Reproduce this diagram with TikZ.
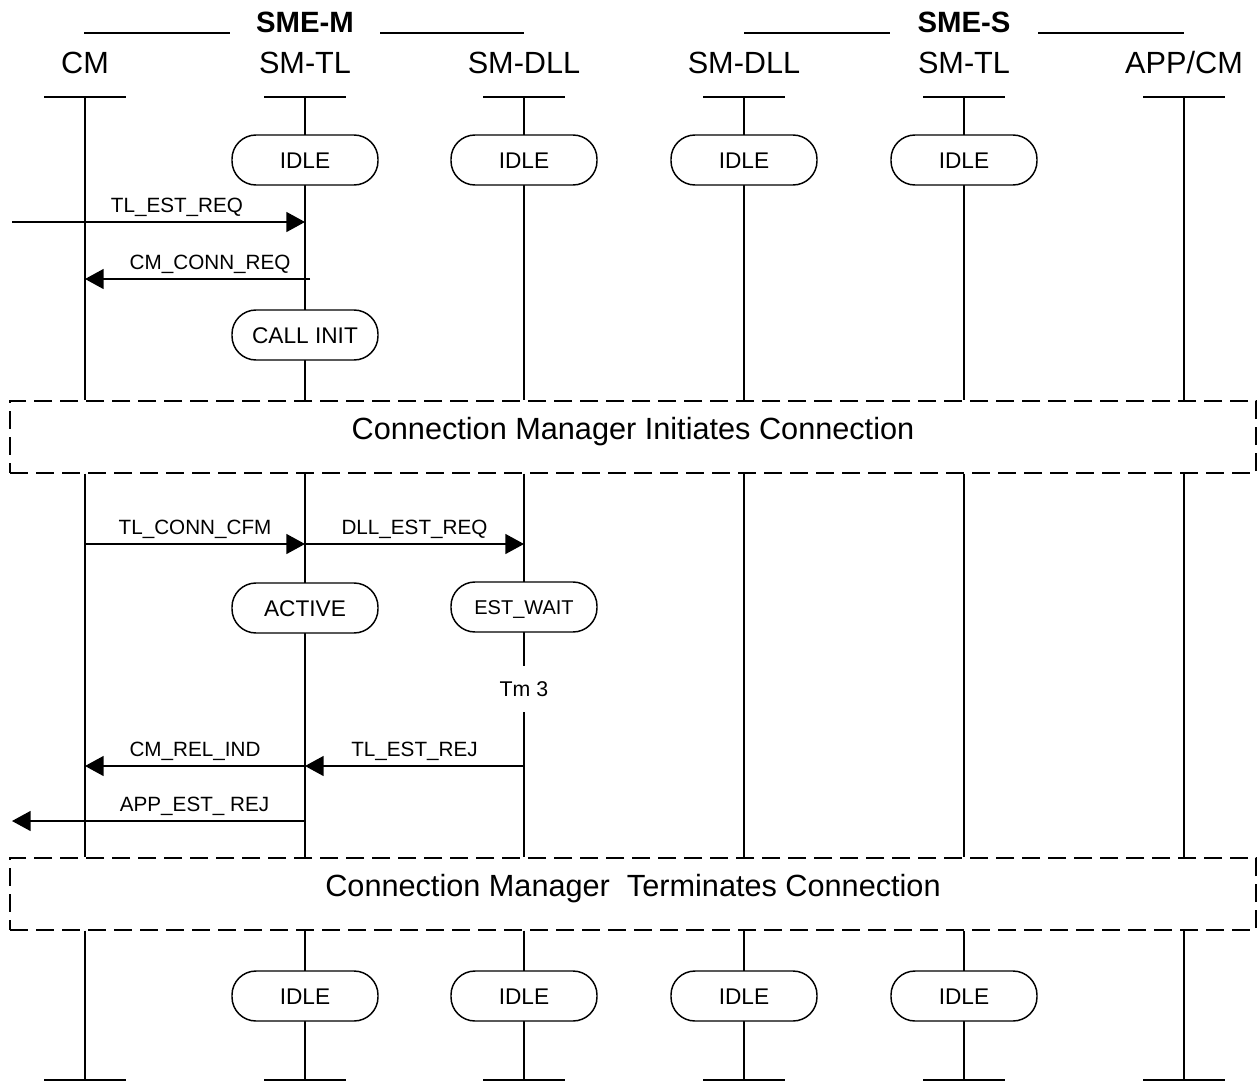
\documentclass[tikz,border=0pt]{standalone}
\usepackage{fontspec}
\setmainfont{Liberation Sans}
\usetikzlibrary{arrows.meta}
\tikzset{
  lifehead/.style={anchor=base,font=\fontsize{23}{27}\selectfont},
  entity/.style={anchor=base,font=\bfseries\fontsize{22}{26}\selectfont},
  state/.style={draw,fill=white,rounded corners=18pt,minimum width=109.5pt,
    minimum height=37.5pt,inner sep=0pt,text height=12pt,text depth=0pt,
    font=\fontsize{17}{20}\selectfont},
  msg/.style={-{Triangle[length=14pt,width=15pt]}},
  msglabel/.style={anchor=base,yshift=7pt,font=\fontsize{15.5}{18}\selectfont},
  timer/.style={fill=white,minimum height=35pt,inner sep=1pt,text height=11.5pt,
    text depth=0pt,font=\fontsize{16}{19}\selectfont},
  phase/.style={draw,dash pattern=on 13.5pt off 6pt,minimum width=934.5pt,
    minimum height=54pt,inner sep=0pt},
  phasetext/.style={text height=16.5pt,text depth=0pt,font=\fontsize{23}{27}\selectfont},
}
\begin{document}
\begin{tikzpicture}[x=0.75pt,y=-0.75pt,line width=1.1pt]
  \useasboundingbox (0,0) rectangle (1257,1082);
  \node[entity] (smem) at (305,32.5) {SME-M};
  \node[entity] (smes) at (964,32.5) {SME-S};
  \draw (84,33) -- (230,33);
  \draw (380,33) -- (524,33);
  \draw (744,33) -- (890,33);
  \draw (1038,33) -- (1184,33);
  \foreach \n/\x/\lbl in {cm/85/CM,tlm/305/SM-TL,dllm/524/SM-DLL,
                          dlls/744/SM-DLL,tls/964/SM-TL,app/1184/{APP/CM}} {
    \node[lifehead] (\n) at (\x,73) {\lbl};
    \coordinate (top\n) at (\x,97);
    \coordinate (bot\n) at (\x,1080);
  }
  \node[phase] (ini) at (633,437) {};
  \node[phasetext] (initxt) at ([yshift=6.75pt]ini.center)
    {Connection Manager Initiates Connection};
  \node[phase] (term) at (633,894) {};
  \node[phasetext] (termtxt) at ([yshift=6.75pt]term.center)
    {Connection Manager\ \ Terminates Connection};
  \foreach \n in {cm,tlm,dllm,dlls,tls,app} {
    \draw (top\n) -- (top\n |- ini.north);
    \draw (top\n |- ini.south) -- (top\n |- term.north);
    \draw (top\n |- term.south) -- (bot\n);
    \draw (top\n) ++(-41,0) -- ++(82,0);
    \draw (bot\n) ++(-41,0) -- ++(82,0);
  }
  \foreach \n in {tlm,dllm,dlls,tls} {
    \node[state] (idle\n) at (top\n |- 0,160) {IDLE};
    \node[state] (end\n) at (top\n |- 0,996) {IDLE};
  }
  \coordinate (envin) at (12,222);
  \draw[msg] (envin) -- (envin -| toptlm)
    node[msglabel,pos=0.563] {TL\_EST\_REQ};
  \coordinate (connreq) at (310,279);
  \draw[msg] (connreq) -- (connreq -| topcm)
    node[msglabel,pos=0.444] {CM\_CONN\_REQ};
  \node[state] (callinit) at (toptlm |- 0,335) {CALL INIT};
  \coordinate (cfm) at (topcm |- 0,544);
  \draw[msg] (cfm) -- (cfm -| toptlm) node[msglabel,midway] {TL\_CONN\_CFM};
  \draw[msg] (cfm -| toptlm) -- (cfm -| topdllm)
    node[msglabel,midway] {DLL\_EST\_REQ};
  \node[state] (active) at (toptlm |- 0,608) {ACTIVE};
  \node[state,text height=11pt,font=\fontsize{15}{18}\selectfont] (estwait)
    at (topdllm |- 0,607) {EST\_WAIT};
  \node[timer] (tm) at (topdllm |- 0,689) {Tm 3};
  \coordinate (rej) at (topdllm |- 0,766);
  \draw[msg] (rej) -- (rej -| toptlm) node[msglabel,midway] {TL\_EST\_REJ};
  \draw[msg] (rej -| toptlm) -- (rej -| topcm) node[msglabel,midway] {CM\_REL\_IND};
  \coordinate (appout) at (12,821);
  \draw[msg] (appout -| toptlm) -- (appout)
    node[msglabel,pos=0.377] {APP\_EST\_ REJ};
\end{tikzpicture}
\end{document}
